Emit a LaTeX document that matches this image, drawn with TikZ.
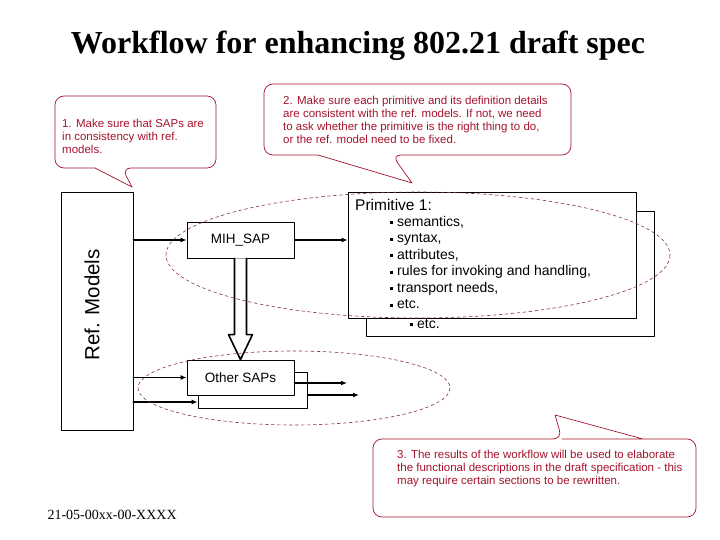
\documentclass[tikz,border=0pt]{standalone}
\usepackage{fontspec}
\setmainfont{Liberation Serif}
\setsansfont{Liberation Sans}
\usetikzlibrary{arrows.meta}

\definecolor{notered}{RGB}{165,20,45}
\definecolor{ringred}{RGB}{135,45,85}
\newcommand{\sqb}{\rule[0.28ex]{3pt}{3pt}\hspace{4pt}}

\begin{document}
\begin{tikzpicture}[x=1pt, y=-1pt, line cap=round, line join=round,
    box/.style={draw, fill=white, line width=0.8pt, inner sep=0pt, font=\sffamily\fontsize{13.5}{15}\selectfont},
    flow/.style={line width=1.6pt, -{Latex[length=6pt,width=5pt]}},
    balloon/.style={draw=notered, fill=white, line width=0.7pt, rounded corners=9pt},
    notetext/.style={anchor=north west, align=left, inner sep=0pt, text=notered, font=\sffamily\fontsize{11.5}{13}\selectfont},
    ring/.style={draw=ringred, dashed, line width=0.6pt}]

  \useasboundingbox (0,0) rectangle (720,540);

  % --- TITLU SI SUBSOL ---
  \node[font=\bfseries\fontsize{32}{34}\selectfont] (title) at (358,46) {Workflow for enhancing 802.21 draft spec};
  \node[anchor=west, font=\fontsize{14}{16}\selectfont] (docid) at (44,515) {21-05-00xx-00-XXXX};

  % --- BALOANE CU NOTE ---
  \draw[balloon] (95,168) -- (55,168) -- (55,96) -- (216,96) -- (216,168) -- (122,168) [sharp corners] -- (132,187) -- cycle;
  \node[notetext] (note1) at (62,119) {1. Make sure that SAPs are\\in consistency with ref.\\models.};

  \draw[balloon] (318,155) -- (264,155) -- (264,84) -- (571,84) -- (571,155) -- (392,155) [sharp corners] -- (412,183) -- cycle;
  \node[notetext] (note2) at (283,96) {2. Make sure each primitive and its definition details\\are consistent with the ref. models. If not, we need\\to ask whether the primitive is the right thing to do,\\or the ref. model need to be fixed.};

  \draw[balloon] (562,439) -- (696,439) -- (696,517) -- (373,517) -- (373,439) -- (562,439) [sharp corners] -- (555,415) -- (643,439);
  \node[notetext] (note3) at (397,450) {3. The results of the workflow will be used to elaborate\\the functional descriptions in the draft specification - this\\may require certain sections to be rewritten.};

  % --- MODELE DE REFERINTA ---
  \node[box, minimum width=72pt, minimum height=238pt] (ref) at (97,311) {};
  \node[rotate=90, font=\sffamily\fontsize{20.5}{22}\selectfont] (reflabel) at (92,305) {Ref. Models};

  % --- SAP-URI ---
  \node[box, minimum width=107pt, minimum height=36pt] (mih) at (240.5,240) {MIH\_SAP};
  \node[box, minimum width=109pt, minimum height=36pt] (otherb) at (252.5,390) {};
  \node[box, minimum width=107pt, minimum height=35pt] (other) at (240.5,377.5) {Other SAPs};

  % --- PRIMITIVE ---
  \node[box, minimum width=288pt, minimum height=125pt] (primb) at (510,273.5) {};
  \node[box, minimum width=288pt, minimum height=126pt] (prim) at (492,255) {};
  \node[anchor=west, inner sep=0pt, font=\sffamily\fontsize{15.5}{17}\selectfont] (primtitle) at (355,205) {Primitive 1:};
  \node[anchor=north west, align=left, inner sep=0pt, font=\sffamily\fontsize{14}{16.5}\selectfont] (primlist) at (390,216)
    {\sqb semantics,\\\sqb syntax,\\\sqb attributes,\\\sqb rules for invoking and handling,\\\sqb transport needs,\\\sqb etc.};
  \node[anchor=west, inner sep=0pt, font=\sffamily\fontsize{14}{16.5}\selectfont] (primmore) at (410,324) {\sqb etc.};

  % --- SAGETI ---
  \draw[flow] (mih.west -| ref.east) -- (mih.west);
  \draw[flow] (mih.east) -- (mih.east -| prim.west);
  \draw[flow] (other.west -| ref.east) -- (other.west);
  \draw[flow] ([yshift=-12pt]otherb.west -| ref.east) -- ([yshift=-12pt]otherb.west);
  \coordinate (outa) at (347,383);
  \coordinate (outb) at (359,395);
  \draw[flow] (outa -| other.east) -- (outa);
  \draw[flow] (outb -| otherb.east) -- (outb);

  % --- SAGEATA GOALA MIH -> ALTE SAP ---
  \draw[line width=1.6pt, fill=white] ([xshift=-6pt]mih.south) -- ([xshift=-6pt,yshift=25pt]other.north)
    -- ([xshift=-12pt,yshift=25pt]other.north) -- (other.north) -- ([xshift=12pt,yshift=25pt]other.north)
    -- ([xshift=6pt,yshift=25pt]other.north) -- ([xshift=6pt]mih.south);

  % --- ELIPSE PUNCTATE ---
  \draw[ring] (418,255) ellipse [x radius=252, y radius=63];
  \draw[ring] (294,388) ellipse [x radius=156, y radius=37];

\end{tikzpicture}
\end{document}
